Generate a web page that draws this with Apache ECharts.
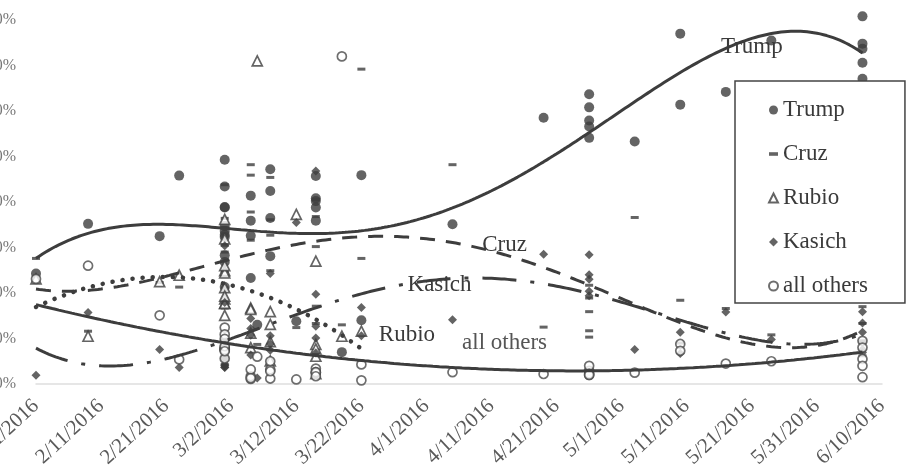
<!DOCTYPE html>
<html>
<head>
<meta charset="utf-8">
<title>2016 Republican primaries – vote share by date</title>
<script src="https://cdn.jsdelivr.net/npm/echarts@6/dist/echarts.min.js"></script>
<style>
  html, body { margin: 0; padding: 0; background: #fff; }
  #chart { width: 909px; height: 471px; }
</style>
</head>
<body>
<div id="chart"></div>
<script>
// One entry per contest (several contests can share a date).
const contestDates = [
  '2/1/2016', '2/9/2016', '2/20/2016', '2/23/2016',
  '3/1/2016', '3/1/2016', '3/1/2016', '3/1/2016', '3/1/2016', '3/1/2016',
  '3/1/2016', '3/1/2016', '3/1/2016', '3/1/2016', '3/1/2016',
  '3/5/2016', '3/5/2016', '3/5/2016', '3/5/2016',
  '3/6/2016',
  '3/8/2016', '3/8/2016', '3/8/2016', '3/8/2016',
  '3/12/2016',
  '3/15/2016', '3/15/2016', '3/15/2016', '3/15/2016', '3/15/2016',
  '3/19/2016',
  '3/22/2016', '3/22/2016',
  '4/5/2016',
  '4/19/2016',
  '4/26/2016', '4/26/2016', '4/26/2016', '4/26/2016', '4/26/2016',
  '5/3/2016',
  '5/10/2016', '5/10/2016',
  '5/17/2016',
  '5/24/2016',
  '6/7/2016', '6/7/2016', '6/7/2016', '6/7/2016', '6/7/2016'
];

// Vote share (%) per contest, aligned with contestDates; null = not on the ballot.
const trumpPct = [
  24.3, 35.2, 32.5, 45.8,
  43.4, 33.6, 32.8, 38.8, 49.3, 21.3, 28.3, 38.9, 26.8, 32.3, 34.7,
  23.3, 35.9, 41.4, 32.6,
  13.0,
  42.4, 28.1, 36.5, 47.2,
  13.8,
  45.7, 38.8, 40.8, 40.2, 35.9,
  7.0,
  45.9, 14.0,
  35.1,
  58.5,
  57.9, 60.8, 54.1, 56.6, 63.7,
  53.3,
  61.4, 77.0,
  64.2,
  75.5,
  74.8, 73.7, 80.8, 70.6, 67.1
];
const cruzPct = [
  27.6, 11.6, 22.3, 21.3,
  21.1, 36.4, 30.5, 23.6, 9.5, 29.0, 34.4, 24.7, 43.8, 9.7, 16.7,
  48.2, 31.6, 37.8, 45.9,
  8.7,
  32.7, 45.4, 24.9, 36.1,
  12.4,
  17.1, 30.2, 40.6, 36.8, 13.3,
  13.0,
  27.6, 69.2,
  48.2,
  12.5,
  11.7, 15.9, 18.9, 21.7, 10.3,
  36.6,
  18.4, 9.0,
  16.6,
  10.8,
  9.5, 9.3, 6.2, 13.3, 17.0
];
const rubioPct = [
  23.1, 10.5, 22.5, 23.9,
  18.7, 15.1, 24.9, 24.4, 17.7, 36.2, 26.0, 21.2, 17.7, 19.3, 31.9,
  16.7, 16.4, 11.2, 8.0,
  71.0,
  13.1, 15.9, 9.3, 5.1,
  37.3,
  27.0, 8.7, 6.1, 7.7, 2.3,
  10.5,
  11.6, null,
  null,
  null,
  null, null, null, null, null,
  null,
  null, null,
  null,
  null,
  null, null, null, null, null
];
const kasichPct = [
  1.9, 15.7, 7.6, 3.6,
  4.4, 4.0, 3.7, 5.6, 17.9, 5.8, 3.6, 5.3, 4.2, 30.4, 9.5,
  10.7, 14.4, 6.4, 12.2,
  1.3,
  10.6, 7.4, 24.3, 8.8,
  35.5,
  6.8, 19.7, 10.1, 12.7, 46.8,
  null,
  10.6, 16.8,
  14.1,
  28.5,
  28.4, 20.4, 23.0, 19.4, 24.0,
  7.6,
  11.4, 6.7,
  15.8,
  9.8,
  11.4, 6.9, 13.4, 7.6, 15.9
];
const othersPct = [
  23.1, 26.0, 15.1, 5.4,
  12.4, 10.9, 8.1, 7.6, 5.6, 7.7, 7.7, 9.9, 7.5, 8.3, 7.2,
  1.1, 1.7, 3.2, 1.3,
  6.0,
  1.2, 3.2, 5.0, 2.8,
  1.0,
  3.4, 2.6, 2.4, 2.6, 1.7,
  72.0,
  4.3, 0.8,
  2.6,
  2.2,
  2.0, 2.9, 4.0, 2.3, 2.0,
  2.5,
  8.8, 7.3,
  4.5,
  5.0,
  5.5, 9.5, 1.5, 8.0, 4.0
];

// Axis: every 10 days from 2/1/2016 to 6/10/2016; y from 0% to 80%.
const xTickDays = 10;
const xLastDay = 130;
const yTicks = [0, 10, 20, 30, 40, 50, 60, 70, 80];

const FONT = "'Liberation Serif', 'Times New Roman', serif";
const INK = '#3d3d3d';
const DAY_MS = 86400000;
const DAY0 = Date.UTC(2016, 1, 1);

function dayOf(s) {
  const [m, d, y] = s.split('/').map(Number);
  return (Date.UTC(y, m - 1, d) - DAY0) / DAY_MS;
}
function dateLabel(day) {
  const dt = new Date(DAY0 + day * DAY_MS);
  return (dt.getUTCMonth() + 1) + '/' + dt.getUTCDate() + '/' + dt.getUTCFullYear();
}

function points(values) {
  const out = [];
  values.forEach((v, i) => { if (v != null) out.push([dayOf(contestDates[i]), v]); });
  return out;
}

// Least-squares polynomial trendline over the span of a series.
function polyTrend(pts, order) {
  const xs = pts.map(p => p[0]), ys = pts.map(p => p[1]);
  const lo = Math.min(...xs), hi = Math.max(...xs);
  const mid = (lo + hi) / 2, half = (hi - lo) / 2 || 1;
  const n = order + 1;
  const A = Array.from({ length: n }, () => new Array(n).fill(0));
  const b = new Array(n).fill(0);
  xs.forEach((x, k) => {
    const t = (x - mid) / half;
    const pw = [];
    for (let i = 0; i < 2 * n; i++) pw.push(Math.pow(t, i));
    for (let i = 0; i < n; i++) {
      b[i] += pw[i] * ys[k];
      for (let j = 0; j < n; j++) A[i][j] += pw[i + j];
    }
  });
  for (let c = 0; c < n; c++) {
    let p = c;
    for (let r = c + 1; r < n; r++) if (Math.abs(A[r][c]) > Math.abs(A[p][c])) p = r;
    [A[c], A[p]] = [A[p], A[c]]; [b[c], b[p]] = [b[p], b[c]];
    for (let r = 0; r < n; r++) {
      if (r === c) continue;
      const f = A[r][c] / A[c][c];
      for (let j = c; j < n; j++) A[r][j] -= f * A[c][j];
      b[r] -= f * b[c];
    }
  }
  const coef = b.map((v, i) => v / A[i][i]);
  const line = [];
  for (let x = lo; x <= hi + 1e-9; x += 0.5) {
    const t = (x - mid) / half;
    let y = 0;
    for (let i = n - 1; i >= 0; i--) y = y * t + coef[i];
    line.push([x, y]);
  }
  return line;
}

const candidates = [
  { name: 'Trump', values: trumpPct, order: 4, symbol: 'circle', size: 10,
    item: { color: INK }, dash: 'solid' },
  { name: 'Cruz', values: cruzPct, order: 4, symbol: 'rect', size: [8, 3],
    item: { color: INK }, dash: [15, 11], icon: 'path://M0,0H10V4H0Z' },
  { name: 'Rubio', values: rubioPct, order: 2, symbol: 'triangle', size: 10,
    item: { color: '#fff', borderColor: INK, borderWidth: 1.7 }, dash: [0.1, 10], cap: 'round', width: 4.5 },
  { name: 'Kasich', values: kasichPct, order: 4, symbol: 'diamond', size: 9,
    item: { color: INK }, dash: [34, 14, 4, 14] },
  { name: 'all others', values: othersPct, order: 2, symbol: 'circle', size: 9,
    item: { color: '#fff', borderColor: '#4a4a4a', borderWidth: 1.7 }, dash: 'solid' }
];

const series = [];
candidates.forEach(c => {
  series.push({
    name: c.name, type: 'scatter', data: points(c.values), clip: false,
    symbol: c.symbol, symbolSize: c.size, itemStyle: c.item, z: 2,
    emphasis: { disabled: true }
  });
});
candidates.forEach(c => {
  series.push({
    name: c.name + ' trend', type: 'line', data: polyTrend(points(c.values), c.order),
    showSymbol: false, symbol: 'none', smooth: false, z: 3, silent: true, clip: false,
    lineStyle: { color: INK, width: c.width || 3, type: c.dash, cap: c.cap || 'butt' }
  });
});

const chart = echarts.init(document.getElementById('chart'), null, { renderer: 'canvas' });
chart.setOption({
  animation: false,
  backgroundColor: '#fff',
  textStyle: { fontFamily: FONT },
  grid: { left: 36, right: 27, top: 20, bottom: 87, containLabel: false, outerBoundsMode: 'none' },
  xAxis: {
    type: 'value', min: 0, max: xLastDay, interval: xTickDays,
    axisLine: { show: true, lineStyle: { color: '#dedede', width: 1.5 } },
    axisTick: { show: false }, splitLine: { show: false },
    axisLabel: { rotate: 43, margin: 19, fontFamily: FONT, fontSize: 21, color: '#5a5a5a',
      formatter: v => dateLabel(v) }
  },
  yAxis: {
    type: 'value', min: yTicks[0], max: yTicks[yTicks.length - 1], interval: 10,
    axisLine: { show: false }, axisTick: { show: false }, splitLine: { show: false },
    axisLabel: { margin: 20, fontFamily: FONT, fontSize: 16, color: '#777', formatter: v => v + '%' }
  },
  legend: {
    orient: 'vertical', left: 735, top: 81,
    backgroundColor: '#fff', borderColor: '#444', borderWidth: 1.5, borderRadius: 0,
    padding: [17, 37, 5, 33], itemGap: 20, itemWidth: 9, itemHeight: 9,
    textStyle: { fontFamily: FONT, fontSize: 23, color: '#3a3a3a', lineHeight: 24 },
    data: candidates.map(c => c.icon ? { name: c.name, icon: c.icon } : { name: c.name }),
    selectedMode: false
  },
  series
});

// Curve names written beside the trendlines, anchored in data units.
const curveLabels = [
  { text: 'Trump', at: ['5/21/2016', 74.1], color: '#3a3a3a' },
  { text: 'Cruz', at: ['4/13/2016', 30.5], color: '#3a3a3a' },
  { text: 'Kasich', at: ['4/3/2016', 21.8], color: '#3a3a3a' },
  { text: 'Rubio', at: ['3/29/2016', 10.8], color: '#3a3a3a' },
  { text: 'all others', at: ['4/13/2016', 9.0], color: '#555' }
];
chart.setOption({
  graphic: curveLabels.map(l => {
    const [px, py] = chart.convertToPixel({ gridIndex: 0 }, [dayOf(l.at[0]), l.at[1]]);
    return {
      type: 'text', x: px, y: py, z: 10, silent: true,
      style: { text: l.text, fill: l.color, font: '23px ' + FONT, align: 'center', verticalAlign: 'middle' }
    };
  })
});
</script>
</body>
</html>
